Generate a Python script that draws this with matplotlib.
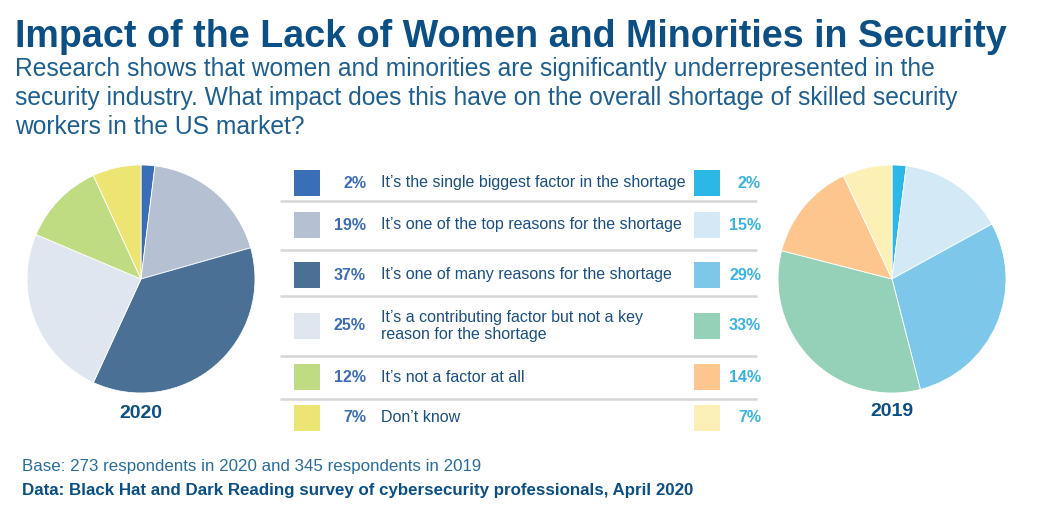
import matplotlib
matplotlib.use("Agg")
import matplotlib.pyplot as plt
from matplotlib import font_manager
from matplotlib.patches import Rectangle

# data
answers = [
    "It\u2019s the single biggest factor in the shortage",
    "It\u2019s one of the top reasons for the shortage",
    "It\u2019s one of many reasons for the shortage",
    "It\u2019s a contributing factor but not a key\nreason for the shortage",
    "It\u2019s not a factor at all",
    "Don\u2019t know",
]
share_2020 = [2, 19, 37, 25, 12, 7]
share_2019 = [2, 15, 29, 33, 14, 7]
colors_2020 = ["#3a6fb8", "#b6c0d3", "#4a7096", "#dfe6f0", "#c0dc82", "#ece473"]
colors_2019 = ["#2cb8e6", "#d3eaf6", "#7dc8ea", "#95d1b9", "#fcc68e", "#fdf0b7"]

W, H = 1043, 511
names = {f.name for f in font_manager.fontManager.ttflist}
narrow = "Liberation Sans Narrow" if "Liberation Sans Narrow" in names else "Liberation Sans"
plt.rcParams["font.family"] = ["Liberation Sans", "DejaVu Sans"]

dark = "#0b4f85"
mid = "#1e5f92"

fig = plt.figure(figsize=(W / 100, H / 100), dpi=100)
over = fig.add_axes([0, 0, 1, 1])
over.set_xlim(0, W)
over.set_ylim(H, 0)
over.axis("off")
renderer = fig.canvas.get_renderer()


def fit_width(txt, target):
    # shrink a text until its widest line spans target pixels
    bb = txt.get_window_extent(renderer)
    txt.set_fontsize(txt.get_fontsize() * target / bb.width)


def pie_at(cx, cy, r, values, colors, year, ly):
    ax = fig.add_axes([(cx - r) / W, (H - cy - r) / H, 2 * r / W, 2 * r / H])
    ax.pie(values, colors=colors, startangle=90, counterclock=False,
           wedgeprops=dict(linewidth=0.6, edgecolor="white"))
    ax.set_xlim(-1, 1)
    ax.set_ylim(-1, 1)
    over.text(cx, ly, year, ha="center", va="center", fontsize=14,
              fontweight="bold", color=dark)


pie_at(141, 279, 114, share_2020, colors_2020, "2020", 413)
pie_at(892, 279, 114, share_2019, colors_2019, "2019", 412)

# title block
title = over.text(15, 47, "Impact of the Lack of Women and Minorities in Security",
                  family=narrow, fontsize=30, fontweight="bold", color=dark,
                  va="baseline")
fit_width(title, 990)
sub_lines = [
    "Research shows that women and minorities are significantly underrepresented in the",
    "security industry. What impact does this have on the overall shortage of skilled security",
    "workers in the US market?",
]
first = over.text(15, 76, sub_lines[0], family=narrow, fontsize=18.5, color=mid,
                  va="baseline")
fit_width(first, 925)
for k, line in enumerate(sub_lines[1:], start=1):
    over.text(15, 76 + 29 * k, line, family=narrow, fontsize=first.get_fontsize(),
              color=mid, va="baseline")

# middle legend table
row_y = [183, 225, 275, 326, 377, 418]
sep_y = [201, 250, 296, 356, 399]
for y in sep_y:
    over.plot([280, 757], [y, y], color="#d6d6d6", lw=1.8, solid_capstyle="butt")
for i, y in enumerate(row_y):
    over.add_patch(Rectangle((294, y - 13), 26, 26, color=colors_2020[i], lw=0))
    over.add_patch(Rectangle((694, y - 13), 26, 26, color=colors_2019[i], lw=0))
    over.text(366, y, f"{share_2020[i]}%", ha="right", va="center", fontsize=11.5,
              fontweight="bold", color="#3d6cb3")
    over.text(761, y, f"{share_2019[i]}%", ha="right", va="center", fontsize=11.5,
              fontweight="bold", color="#38b4e4")
    over.text(381, y, answers[i], ha="left", va="center", fontsize=11.5,
              color="#1b4f82", linespacing=1.1)

# footer
base = over.text(22, 467, "Base: 273 respondents in 2020 and 345 respondents in 2019",
                 fontsize=12, color="#2a6d9c", va="center")
fit_width(base, 459)
src = over.text(22, 490, "Data: Black Hat and Dark Reading survey of cybersecurity professionals, April 2020",
                fontsize=12, fontweight="bold", color=dark, va="center")
fit_width(src, 665)

fig.savefig("out.png", dpi=100, facecolor="white")
